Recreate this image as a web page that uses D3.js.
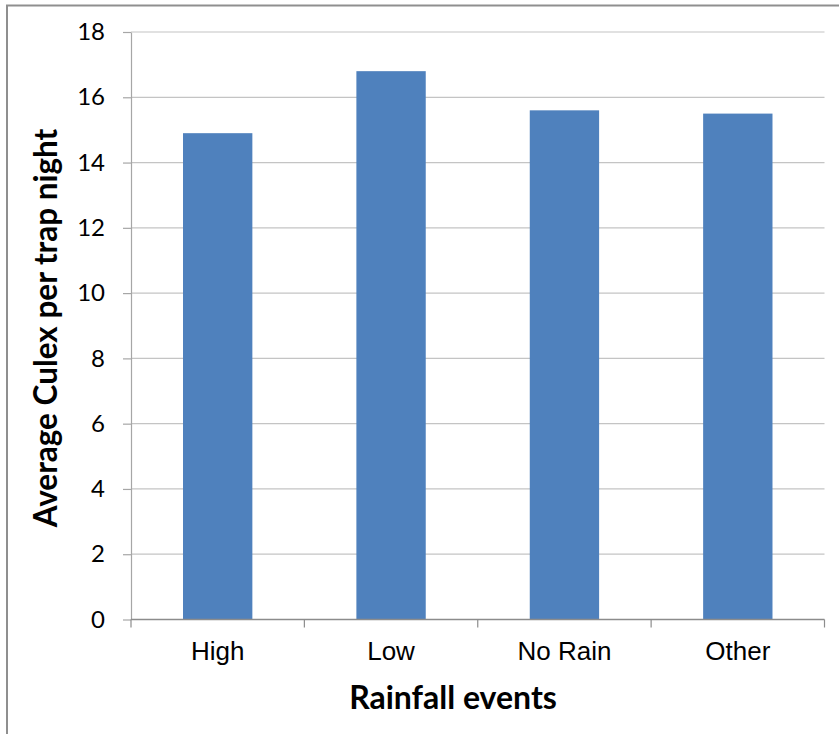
<!DOCTYPE html>
<html>
<head>
<meta charset="utf-8">
<script src="https://cdn.jsdelivr.net/npm/d3@7/dist/d3.min.js"></script>
<style>
  html, body { margin: 0; padding: 0; background: #fff; }
  svg { display: block; }
</style>
</head>
<body>
<svg id="chart" width="839" height="734"></svg>
<script>
// Average Culex catch per trap night, by rainfall event type
const categories = ["High", "Low", "No Rain", "Other"];
const values = [14.9, 16.8, 15.6, 15.5];
const yTicks = [0, 2, 4, 6, 8, 10, 12, 14, 16, 18];
const xTitle = "Rainfall events";
const yTitle = "Average Culex per trap night";

const svg = d3.select("#chart");
const plot = { left: 131, right: 824.5, top: 32, bottom: 619.5 };

// Chart area frame
svg.append("rect")
  .attr("x", 7).attr("y", 5.5)
  .attr("width", 900).attr("height", 900)
  .attr("fill", "#fff")
  .attr("stroke", "#8f8f8f")
  .attr("stroke-width", 2);

const x = d3.scaleBand()
  .domain(categories)
  .range([plot.left, plot.right])
  .paddingInner(0.6)
  .paddingOuter(0.3);

const xBoundary = d3.scaleLinear()
  .domain([0, categories.length])
  .range([plot.left, plot.right]);

const y = d3.scaleLinear()
  .domain([0, 18])
  .range([plot.bottom, plot.top]);

// Horizontal gridlines
svg.append("g")
  .selectAll("line")
  .data(yTicks.filter(d => d > 0))
  .join("line")
  .attr("x1", plot.left).attr("x2", plot.right)
  .attr("y1", d => y(d)).attr("y2", d => y(d))
  .attr("stroke", "#c4c4c4")
  .attr("stroke-width", 1.2);

// Bars
svg.append("g")
  .selectAll("rect")
  .data(categories.map((c, i) => ({ c, v: values[i] })))
  .join("rect")
  .attr("x", d => x(d.c))
  .attr("y", d => y(d.v))
  .attr("width", x.bandwidth())
  .attr("height", d => y(0) - y(d.v))
  .attr("fill", "#4f81bd");

// Y axis
const yAxis = svg.append("g")
  .attr("transform", `translate(${plot.left},0)`)
  .call(d3.axisLeft(y).tickValues(yTicks).tickSize(8).tickPadding(18).tickSizeOuter(0));
yAxis.select(".domain").attr("stroke", "#a6a6a6").attr("stroke-width", 1.2);
yAxis.selectAll(".tick line").attr("stroke", "#a6a6a6").attr("stroke-width", 1.2);
yAxis.selectAll(".tick text")
  .attr("font-family", "Lato, 'Open Sans', sans-serif")
  .attr("font-size", 24)
  .attr("fill", "#000");

// X axis line with ticks at category boundaries
const xg = svg.append("g");
xg.append("line")
  .attr("x1", plot.left).attr("x2", plot.right)
  .attr("y1", plot.bottom).attr("y2", plot.bottom)
  .attr("stroke", "#8c8c8c").attr("stroke-width", 1.4);
xg.selectAll("line.tk")
  .data(d3.range(categories.length + 1))
  .join("line")
  .attr("class", "tk")
  .attr("x1", d => xBoundary(d)).attr("x2", d => xBoundary(d))
  .attr("y1", plot.bottom).attr("y2", plot.bottom + 8)
  .attr("stroke", "#8c8c8c").attr("stroke-width", 1.2);
xg.selectAll("text")
  .data(categories)
  .join("text")
  .attr("x", d => x(d) + x.bandwidth() / 2)
  .attr("y", 660)
  .attr("text-anchor", "middle")
  .attr("font-family", "'Liberation Sans', Arial, sans-serif")
  .attr("font-size", 26)
  .attr("fill", "#000")
  .text(d => d);

// Axis titles
svg.append("text")
  .attr("x", 453)
  .attr("y", 709)
  .attr("text-anchor", "middle")
  .attr("font-family", "Lato, 'Open Sans', sans-serif")
  .attr("font-weight", "bold")
  .attr("font-size", 32)
  .attr("fill", "#000")
  .text(xTitle);

svg.append("text")
  .attr("transform", "translate(57,328) rotate(-90)")
  .attr("text-anchor", "middle")
  .attr("font-family", "Lato, 'Open Sans', sans-serif")
  .attr("font-weight", "bold")
  .attr("font-size", 31.5)
  .attr("fill", "#000")
  .text(yTitle);
</script>
</body>
</html>
